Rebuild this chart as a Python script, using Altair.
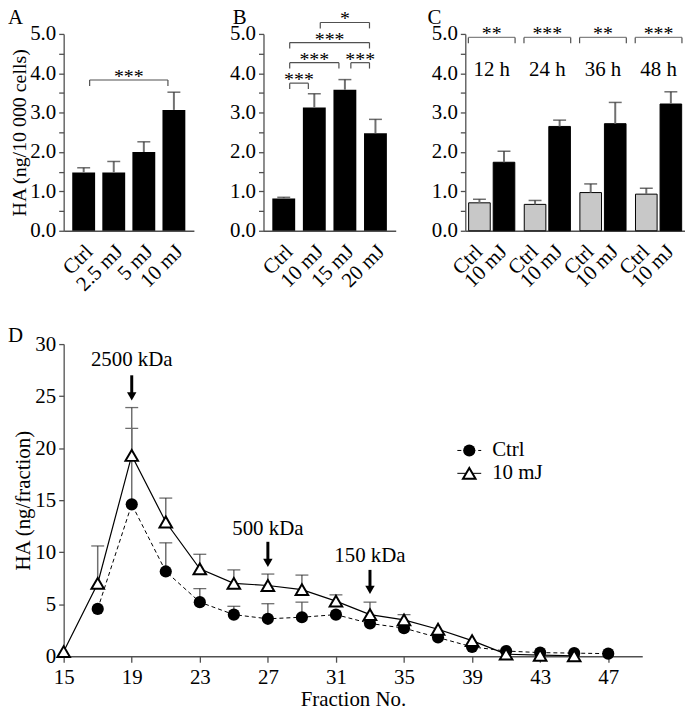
import json
import math
import altair as alt
import pandas as pd

FONT = "Liberation Serif"
FS = 21
AXC = "#505050"
ERRC = "#707070"
CAPC = "#303030"
BRC = "#505050"

# ---------------- data ----------------
# Panel A
a_cats = ["Ctrl", "2.5 mJ", "5 mJ", "10 mJ"]
a_mean = [1.48, 1.48, 2.00, 3.07]
a_upper = [1.60, 1.76, 2.26, 3.52]
a_br_from = [0]
a_br_to = [3]
a_br_level = [3.83]
a_br_label = ["***"]

# Panel B
b_cats = ["Ctrl", "10 mJ", "15 mJ", "20 mJ"]
b_mean = [0.82, 3.13, 3.58, 2.48]
b_upper = [0.85, 3.48, 3.84, 2.83]
b_br_from = [0, 0, 2, 0, 1]
b_br_to = [1, 2, 3, 3, 3]
b_br_level = [3.75, 4.27, 4.27, 4.78, 5.29]
b_br_label = ["***", "***", "***", "***", "*"]

# Panel C
c_times = ["12 h", "24 h", "36 h", "48 h"]
c_groups = ["Ctrl", "10 mJ"]
c_ctrl_mean = [0.71, 0.67, 0.97, 0.93]
c_ctrl_upper = [0.80, 0.77, 1.19, 1.08]
c_mj_mean = [1.74, 2.65, 2.72, 3.22]
c_mj_upper = [2.02, 2.81, 3.26, 3.53]
c_stars = ["**", "***", "**", "***"]
c_br_level = [4.91, 4.91, 4.91, 4.91]
c_time_y = [4.08, 4.08, 4.08, 4.08]

# Panel D
d_frac_ctrl = [17, 19, 21, 23, 25, 27, 29, 31, 33, 35, 37, 39, 41, 43, 45, 47]
d_ctrl = [4.55, 14.6, 8.15, 5.2, 4.0, 3.6, 3.75, 4.0, 3.15, 2.7, 1.8, 0.9, 0.5, 0.35, 0.3, 0.25]
d_ctrl_upper = [None, 21.9, 10.9, 6.5, 4.8, 5.05, 5.2, None, None, None, None, None, None, None, None, None]
d_frac_mj = [15, 17, 19, 21, 23, 25, 27, 29, 31, 33, 35, 37, 39, 41, 43, 45]
d_mj = [0.45, 7.0, 19.3, 12.9, 8.4, 7.0, 6.8, 6.4, 5.3, 4.0, 3.5, 2.6, 1.5, 0.2, 0.1, 0.05]
d_mj_upper = [None, 10.6, 23.9, 15.2, 9.8, 8.3, 7.9, 7.8, 5.9, 5.2, 4.0, None, None, None, None, None]
d_arrow_x = [19, 27, 33]
d_arrow_top = [27.0, 11.0, 8.3]
d_arrow_tip = [24.5, 8.5, 5.9]
d_arrow_label = ["2500 kDa", "500 kDa", "150 kDa"]
d_arrow_label_y = [27.9, 11.65, 9.07]
d_series = ["Ctrl", "10 mJ"]

# ---------------- helpers ----------------
def letter(ch, px, py):
    return alt.Chart(pd.DataFrame({"t": [ch]})).mark_text(
        align="left", baseline="alphabetic", font=FONT, fontSize=21, color="black"
    ).encode(x=alt.value(px), y=alt.value(py), text="t:N")


def yaxis_bar(title):
    kw = dict(
        values=[i / 2 for i in range(11)],
        labelExpr="datum.value % 1 == 0 ? format(datum.value, '.1f') : ''",
        tickSize=5, labelPadding=3, grid=False, labelOverlap=False, labelBound=False,
    )
    if title:
        kw.update(title=title, titlePadding=0, titleFontSize=20)
    else:
        kw.update(title=None)
    return alt.Axis(**kw)


def bar_panel(cats, mean, upper, bfrom, bto, blevel, blabel, width, height, ytitle, let, let_x):
    df = pd.DataFrame({"pos": list(range(len(cats))), "cat": cats, "mean": mean, "upper": upper})
    xs = alt.Scale(domain=[-0.5, len(cats) - 0.5], nice=False, zero=False)
    ys = alt.Scale(domain=[0, 5], nice=False)
    yax = yaxis_bar(ytitle)
    base = alt.Chart(df)
    bars = base.mark_bar(size=23, color="black").encode(
        x=alt.X("pos:Q", scale=xs, axis=alt.Axis(labels=False, ticks=False, title=None, grid=False)),
        y=alt.Y("mean:Q", scale=ys, axis=yax),
    )
    err = base.mark_rule(color=ERRC, strokeWidth=2).encode(
        x="pos:Q", y=alt.Y("mean:Q", axis=yax), y2="upper:Q")
    cap = base.mark_tick(size=13, thickness=1.5, color=CAPC, orient="horizontal").encode(
        x="pos:Q", y=alt.Y("upper:Q", axis=yax))
    labels = base.mark_text(
        angle=315, align="right", baseline="middle", font=FONT, fontSize=FS, xOffset=6, yOffset=0
    ).encode(x="pos:Q", y=alt.value(height + 18), text="cat:N")

    br = pd.DataFrame({"f": bfrom, "t": bto, "level": blevel, "label": blabel})
    bb = alt.Chart(br).transform_calculate(mid="(datum.f + datum.t) / 2", low="datum.level - 0.15")
    hline = bb.mark_rule(color=BRC, strokeWidth=1.2, xOffset=6, x2Offset=-6).encode(
        x="f:Q", x2="t:Q", y=alt.Y("level:Q", axis=yax))
    lt = bb.mark_rule(color=BRC, strokeWidth=1.2, xOffset=6).encode(
        x="f:Q", y=alt.Y("level:Q", axis=yax), y2="low:Q")
    rt = bb.mark_rule(color=BRC, strokeWidth=1.2, xOffset=-6).encode(
        x="t:Q", y=alt.Y("level:Q", axis=yax), y2="low:Q")
    stars = bb.mark_text(font=FONT, fontSize=20, baseline="alphabetic", yOffset=3).encode(
        x="mid:Q", y=alt.Y("level:Q", axis=yax), text="label:N"
    )
    return alt.layer(bars, err, cap, labels, hline, lt, rt, stars, letter(let, let_x, -10)).properties(
        width=width, height=height
    )


# ---------------- panels A, B ----------------
pA = bar_panel(a_cats, a_mean, a_upper, a_br_from, a_br_to, a_br_level, a_br_label,
               131, 198, "HA (ng/10 000 cells)", "A", -56)
pB = bar_panel(b_cats, b_mean, b_upper, b_br_from, b_br_to, b_br_level, b_br_label,
               133, 198, None, "B", -31)

# ---------------- panel C ----------------
cdf = pd.DataFrame({
    "time": c_times * 2,
    "grp": [c_groups[0]] * 4 + [c_groups[1]] * 4,
    "mean": c_ctrl_mean + c_mj_mean,
    "upper": c_ctrl_upper + c_mj_upper,
})
cyax = yaxis_bar(None)
cx = alt.X("time:N", sort=c_times, scale=alt.Scale(paddingInner=0.17, paddingOuter=0.06),
           axis=alt.Axis(labels=False, ticks=False, title=None, grid=False))
cxo = alt.XOffset("grp:N", sort=c_groups, scale=alt.Scale(paddingInner=0.12, paddingOuter=0))
cys = alt.Scale(domain=[0, 5], nice=False)
cbase = alt.Chart(cdf)
c_bars = cbase.mark_bar(stroke="black", strokeWidth=1).encode(
    x=cx, xOffset=cxo,
    y=alt.Y("mean:Q", scale=cys, axis=cyax),
    color=alt.Color("grp:N", scale=alt.Scale(domain=c_groups, range=["#c8c8c8", "#000000"]), legend=None),
)
c_err = cbase.mark_rule(color=ERRC, strokeWidth=2).encode(
    x=cx, xOffset=cxo, y=alt.Y("mean:Q", axis=cyax), y2="upper:Q")
c_cap = cbase.mark_tick(size=13, thickness=1.5, color=CAPC, orient="horizontal").encode(
    x=cx, xOffset=cxo, y=alt.Y("upper:Q", axis=cyax))
c_lab = cbase.mark_text(angle=315, align="right", baseline="middle", font=FONT, fontSize=FS, xOffset=6).encode(
    x=cx, xOffset=cxo, y=alt.value(198 + 18), text="grp:N"
)
cbr = pd.DataFrame({"time": c_times, "stars": c_stars, "level": c_br_level, "ty": c_time_y})
cbb = alt.Chart(cbr).transform_calculate(low="datum.level - 0.15")
c_h = cbb.mark_tick(size=47, thickness=1.2, color=BRC, orient="horizontal").encode(
    x=cx, y=alt.Y("level:Q", axis=cyax))
c_l = cbb.mark_rule(color=BRC, strokeWidth=1.2, xOffset=-23.5).encode(
    x=cx, y=alt.Y("level:Q", axis=cyax), y2="low:Q")
c_r = cbb.mark_rule(color=BRC, strokeWidth=1.2, xOffset=23.5).encode(
    x=cx, y=alt.Y("level:Q", axis=cyax), y2="low:Q")
c_s = cbb.mark_text(font=FONT, fontSize=20, baseline="alphabetic", yOffset=3).encode(
    x=cx, y=alt.Y("level:Q", axis=cyax), text="stars:N")
c_t = cbb.mark_text(font=FONT, fontSize=FS, baseline="middle").encode(
    x=cx, y=alt.Y("ty:Q", axis=cyax), text="time:N")
pC = alt.layer(c_bars, c_err, c_cap, c_lab, c_h, c_l, c_r, c_s, c_t, letter("C", -38, -10)).properties(
    width=221, height=198
)

# ---------------- panel D ----------------
DW, DH = 582, 314
ctrl_df = pd.DataFrame({"frac": d_frac_ctrl, "v": d_ctrl, "up": d_ctrl_upper})
mj_df = pd.DataFrame({"frac": d_frac_mj, "v": d_mj, "up": d_mj_upper})
dxs = alt.Scale(domain=[15, 49], nice=False, zero=False)
dys = alt.Scale(domain=[0, 30], nice=False)
dx_axis = alt.Axis(values=list(range(15, 50, 2)),
                   labelExpr="(datum.value - 15) % 4 == 0 ? datum.value : ''",
                   title="Fraction No.", tickSize=6, labelPadding=4, titlePadding=2,
                   labelFlush=False, labelOverlap=False, grid=False)
dy_axis = alt.Axis(values=list(range(0, 31, 5)), title="HA (ng/fraction)", tickSize=5, labelPadding=3,
                   titlePadding=1, grid=False, labelOverlap=False)

c_line = alt.Chart(ctrl_df).mark_line(color="black", strokeWidth=1, strokeDash=[4, 3]).encode(
    x=alt.X("frac:Q", scale=dxs, axis=dx_axis), y=alt.Y("v:Q", scale=dys, axis=dy_axis)
)
m_line = alt.Chart(mj_df).mark_line(color="black", strokeWidth=1.2).encode(x="frac:Q", y="v:Q")
c_e = alt.Chart(ctrl_df).transform_filter("isValid(datum.up)").mark_rule(color=ERRC, strokeWidth=1.5).encode(
    x="frac:Q", y="v:Q", y2="up:Q")
c_ec = alt.Chart(ctrl_df).transform_filter("isValid(datum.up)").mark_tick(
    size=13, thickness=1.3, color=CAPC, orient="horizontal").encode(x="frac:Q", y="up:Q")
m_e = alt.Chart(mj_df).transform_filter("isValid(datum.up)").mark_rule(color=ERRC, strokeWidth=1.5).encode(
    x="frac:Q", y="v:Q", y2="up:Q")
m_ec = alt.Chart(mj_df).transform_filter("isValid(datum.up)").mark_tick(
    size=13, thickness=1.3, color=CAPC, orient="horizontal").encode(x="frac:Q", y="up:Q")
c_pts = alt.Chart(ctrl_df).mark_point(shape="circle", size=150, filled=True, color="black", opacity=1).encode(
    x="frac:Q", y="v:Q")
m_pts = alt.Chart(mj_df).mark_point(shape="triangle-up", size=160, fill="white", stroke="black",
                                    strokeWidth=2, opacity=1, fillOpacity=1).encode(x="frac:Q", y="v:Q")

arr = pd.DataFrame({"x": d_arrow_x, "top": d_arrow_top, "tip": d_arrow_tip,
                    "lab": d_arrow_label, "ly": d_arrow_label_y})
a_shaft = alt.Chart(arr).mark_rule(color="black", strokeWidth=3, y2Offset=-8).encode(x="x:Q", y="top:Q", y2="tip:Q")
a_head = alt.Chart(arr).mark_point(shape="triangle-down", size=90, filled=True, color="black", opacity=1,
                                   yOffset=-5).encode(x="x:Q", y="tip:Q")
a_lab = alt.Chart(arr).mark_text(font=FONT, fontSize=FS, baseline="alphabetic").encode(
    x="x:Q", y="ly:Q", text="lab:N")

# legend (manual)
def leg_entry(name, py, dash, shape, filled):
    d = pd.DataFrame({"n": [name]})
    rule_kw = dict(color="black", strokeWidth=1)
    if dash:
        rule_kw["strokeDash"] = [4, 3]
    r = alt.Chart(d).mark_rule(**rule_kw).encode(x=alt.value(396), x2=alt.value(420), y=alt.value(py))
    if filled:
        p = alt.Chart(d).mark_point(shape=shape, size=150, filled=True, color="black", opacity=1).encode(
            x=alt.value(408), y=alt.value(py))
    else:
        p = alt.Chart(d).mark_point(shape=shape, size=160, fill="white", stroke="black", strokeWidth=2,
                                    opacity=1, fillOpacity=1).encode(x=alt.value(408), y=alt.value(py))
    t = alt.Chart(d).mark_text(font=FONT, fontSize=FS, align="left", baseline="middle").encode(
        x=alt.value(431), y=alt.value(py), text="n:N")
    return [r, p, t]

legend_layers = leg_entry(d_series[0], 107, True, "circle", True) + leg_entry(d_series[1], 130, False, "triangle-up", False)

pD = alt.layer(c_line, m_line, c_e, c_ec, m_e, m_ec, c_pts, m_pts, a_shaft, a_head, a_lab,
               *legend_layers, letter("D", -56, -2)).properties(width=DW, height=DH)

top = alt.hconcat(pA, pB, pC, spacing=70, bounds="flush")
chart = alt.vconcat(top, pD, spacing=198 + 114, bounds="flush").properties(
    padding={"left": 0, "top": -3, "right": 0, "bottom": 0}, background="white"
).configure_view(stroke=None).configure_axis(
    labelFont=FONT, titleFont=FONT, labelFontSize=FS, titleFontSize=FS, titleFontWeight="normal",
    labelColor="black", titleColor="black", domainColor=AXC, tickColor=AXC, domainWidth=1.3, tickWidth=1.3,
    labelOverlap=False,
)

chart.save("out.html", embed_options={"renderer": "svg", "actions": False})
